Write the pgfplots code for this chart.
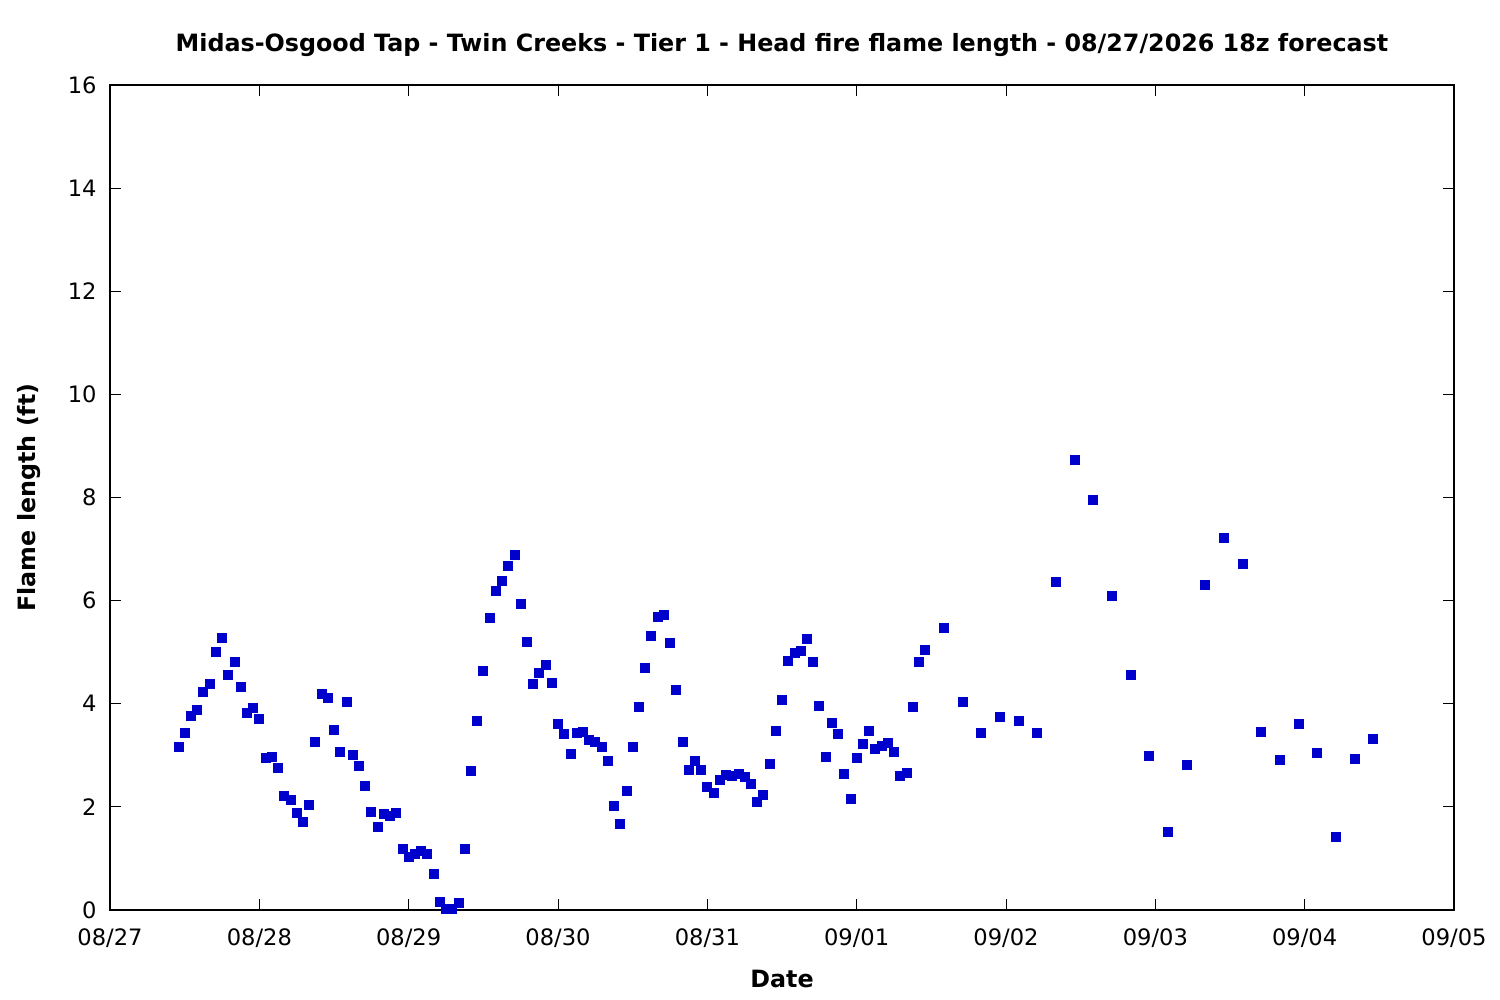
\documentclass[border=0pt]{standalone}
\usepackage{pgfplots}
\pgfplotsset{compat=1.18}
\usepackage{pgfplotstable}
\usepackage{fontspec}
\setmainfont{DejaVu Sans}
\definecolor{ptblue}{RGB}{0,0,204}
\pgfplotstableread{
h v
11 3.16
12 3.43
13 3.76
14 3.88
15 4.23
16 4.38
17 5.00
18 5.27
19 4.56
20 4.81
21 4.33
22 3.82
23 3.92
24 3.70
25 2.95
26 2.97
27 2.75
28 2.21
29 2.13
30 1.88
31 1.71
32 2.04
33 3.26
34 4.19
35 4.11
36 3.49
37 3.06
38 4.03
39 3.01
40 2.79
41 2.40
42 1.90
43 1.61
44 1.86
45 1.82
46 1.88
47 1.18
48 1.03
49 1.09
50 1.14
51 1.09
52 0.70
53 0.16
54 0.02
55 0.02
56 0.14
57 1.18
58 2.69
59 3.67
60 4.64
61 5.66
62 6.19
63 6.38
64 6.67
65 6.88
66 5.93
67 5.20
68 4.38
69 4.60
70 4.75
71 4.40
72 3.61
73 3.41
74 3.03
75 3.43
76 3.45
77 3.30
78 3.26
79 3.16
80 2.89
81 2.02
82 1.67
83 2.31
84 3.16
85 3.94
86 4.69
87 5.31
88 5.68
89 5.72
90 5.18
91 4.27
92 3.26
93 2.72
94 2.89
95 2.72
96 2.39
97 2.27
98 2.52
99 2.62
100 2.60
101 2.64
102 2.58
103 2.44
104 2.09
105 2.23
106 2.83
107 3.47
108 4.07
109 4.83
110 4.98
111 5.02
112 5.26
113 4.81
114 3.96
115 2.97
116 3.63
117 3.41
118 2.64
119 2.15
120 2.95
121 3.22
122 3.47
123 3.12
124 3.18
125 3.24
126 3.06
127 2.60
128 2.66
129 3.94
130 4.81
131 5.04
134 5.48
137 4.04
140 3.43
143 3.74
146 3.66
149 3.43
152 6.37
155 8.73
158 7.96
161 6.10
164 4.55
167 2.98
170 1.51
173 2.81
176 6.31
179 7.22
182 6.72
185 3.45
188 2.92
191 3.61
194 3.04
197 1.42
200 2.94
203 3.32
}\flame
\begin{document}
\fontsize{11.3}{13.6}\selectfont
\begin{tikzpicture}
\path[use as bounding box] (-55pt,-45pt) rectangle (695pt,455pt);
\begin{axis}[
  scale only axis,
  width=672pt, height=412.5pt,
  at={(0,0)}, anchor=south west,
  xmin=0, xmax=216, ymin=0, ymax=16,
  xtick={0,24,...,216},
  xticklabels={08/27,08/28,08/29,08/30,08/31,09/01,09/02,09/03,09/04,09/05},
  ytick={0,2,...,16},
  /pgf/number format/assume math mode=true,
  tick align=inside,
  major tick length=5.5pt,
  minor tick num=0,
  axis line style={line width=0.6pt},
  every tick/.style={black, line width=0.5pt},
  xticklabel style={anchor=base, inner sep=0pt, yshift=-18pt},
  yticklabel style={anchor=east, inner sep=0pt, xshift=-6.5pt},
  title={\fontsize{11.9}{14}\selectfont\bfseries Midas-Osgood Tap - Twin Creeks - Tier 1 - Head fire flame length - 08/27/2026 18z forecast},
  title style={at={(axis description cs:0.5,1)}, anchor=base, inner sep=0pt, yshift=10.5pt},
  xlabel={\fontsize{11.9}{14}\selectfont\bfseries Date},
  xlabel style={at={(axis description cs:0.5,0)}, anchor=base, inner sep=0pt, yshift=-39pt},
  ylabel={\fontsize{11.9}{14}\selectfont\bfseries Flame length (ft)},
  ylabel style={at={(axis description cs:-0.0558,0.5)}, anchor=base, inner sep=0pt},
  clip=false,
]
\addplot[only marks, mark=square*, mark size=2.25pt, color=ptblue, mark options={draw=none, fill=ptblue}] table[x=h, y=v] {\flame};
\end{axis}
\end{tikzpicture}
\end{document}
